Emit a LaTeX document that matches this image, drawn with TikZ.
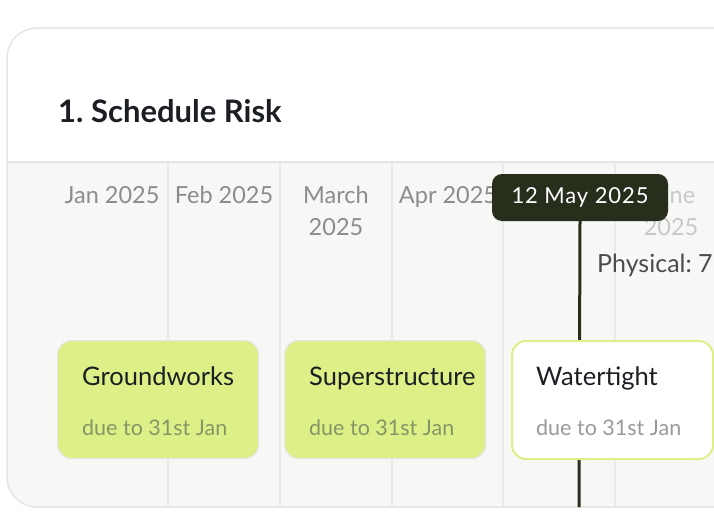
\documentclass[tikz,border=0pt]{standalone}
\usepackage{fontspec}
\setmainfont{Lato}
\usetikzlibrary{positioning}
\definecolor{lime}{HTML}{DDF087}
\definecolor{ink}{HTML}{1B1E23}
\definecolor{night}{HTML}{272E1C}
\definecolor{gridline}{HTML}{EAEBE8}
\definecolor{panel}{HTML}{F7F8F6}
\definecolor{cardedge}{HTML}{E5E5E5}
\definecolor{monthgray}{HTML}{8C8C8C}
\definecolor{fadegray}{HTML}{C8C8C8}
\definecolor{duegray}{HTML}{999999}
\definecolor{dueolive}{HTML}{879565}
\frenchspacing
\tikzset{
  month/.style = {text=monthgray, font=\fontsize{23.5}{32}\selectfont, align=center, inner sep=0, anchor=base},
  task/.style = {rounded corners=14, minimum width=201, minimum height=118, anchor=north west},
  taskname/.style = {text=ink, font=\fontsize{25.5}{30}\selectfont, inner sep=0, anchor=base west},
  taskdue/.style = {font=\fontsize{21.5}{26}\selectfont, inner sep=0, anchor=base west},
  tip/.style = {fill=night, text=white, rounded corners=10, minimum width=176, minimum height=47,
    font=\fontsize{22}{26}\selectfont\addfontfeature{LetterSpace=4}}
}

\begin{document}
\begin{tikzpicture}[x=1pt,y=-1pt]
  \useasboundingbox (0,0) rectangle (714,530);
  \clip (0,0) rectangle (714,530);
  % card
  \begin{scope}
    \clip[rounded corners=30] (7,28) rectangle (760,507);
    \fill[white] (7,28) rectangle (760,162);
    \fill[panel] (7,162) rectangle (760,507);
  \end{scope}
  \draw[cardedge, line width=1.5] (7,162) -- (760,162);
  \foreach \x in {168,280,392,503,615}
    \draw[gridline, line width=1.2] (\x,163) -- (\x,506);
  \draw[cardedge, line width=1.5, rounded corners=30] (7,28) rectangle (760,507);
  \node[text=ink, font=\fontsize{31}{36}\selectfont\bfseries, inner sep=0, anchor=base west] (title) at (58,122) {1. Schedule Risk};
  % months (base = last line)
  \node[month] (jan) at (112,203) {Jan 2025};
  \node[month] (feb) at (224,203) {Feb 2025};
  \node[month] (mar) at (336,235) {March\\2025};
  \node[month] (apr) at (448,203) {Apr 2025};
  \node[month, text=fadegray] (jun) at (671,235) {June\\2025};
  % today marker
  \node[tip] (today) at (580,197.5) {12 May 2025};
  \coordinate (todayend) at (579,507);
  \draw[night, line width=3] (today.south) -- (todayend);
  \node[text=black!70, font=\fontsize{25}{30}\selectfont, inner sep=0, anchor=base west] (physical) at (597,272) {Physical: 7};
  % tasks
  \node[task, fill=lime, draw=cardedge, line width=1.2] (ground) at (57,340) {};
  \node[taskname] (groundname) at ([xshift=25,yshift=-45]ground.north west) {Groundworks};
  \node[taskdue, text=dueolive] (grounddue) at ([xshift=25,yshift=-95]ground.north west) {due to 31st Jan};
  \node[task, fill=lime, draw=cardedge, line width=1.2] (super) at (284,340) {};
  \node[taskname] (supername) at ([xshift=25,yshift=-45]super.north west) {Superstructure};
  \node[taskdue, text=dueolive] (superdue) at ([xshift=25,yshift=-95]super.north west) {due to 31st Jan};
  \node[task, fill=white, draw=lime, line width=2] (water) at (511,340) {};
  \node[taskname] (watername) at ([xshift=25,yshift=-45]water.north west) {Watertight};
  \node[taskdue, text=duegray] (waterdue) at ([xshift=25,yshift=-95]water.north west) {due to 31st Jan};
\end{tikzpicture}
\end{document}
